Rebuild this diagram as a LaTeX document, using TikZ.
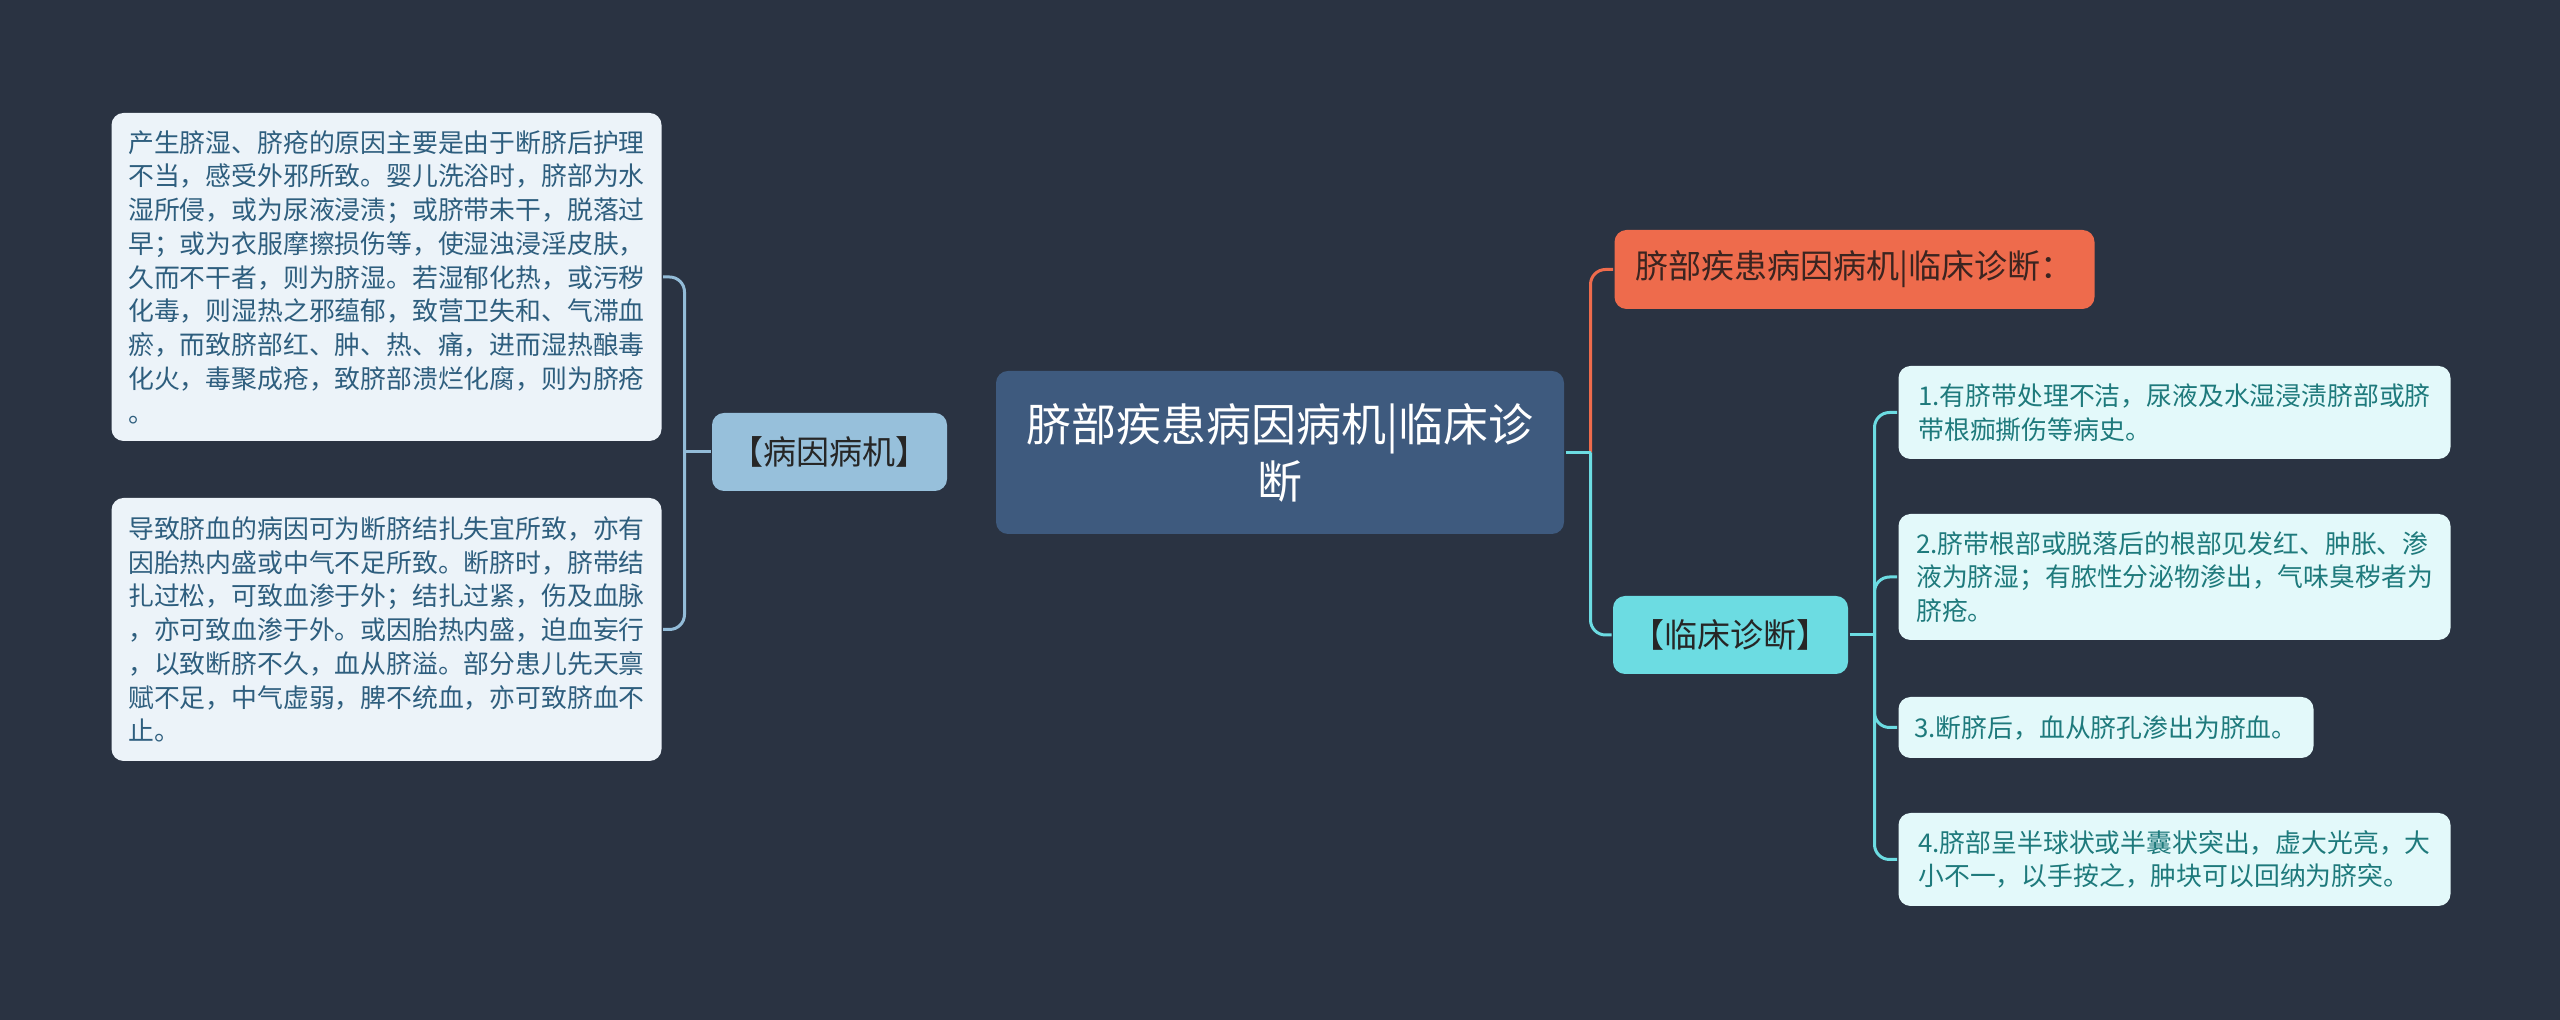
\documentclass[tikz,border=0pt]{standalone}
\usepackage{fontspec}
\setmainfont{Noto Sans CJK SC}
\definecolor{bgcol}{HTML}{2A3342}
\definecolor{rootfill}{HTML}{3E5A7E}
\definecolor{causefill}{HTML}{97C0DB}
\definecolor{lfill}{HTML}{ECF3F9}
\definecolor{ltext}{HTML}{2E5E7E}
\definecolor{orfill}{HTML}{EE6B4C}
\definecolor{ortext}{HTML}{3B2420}
\definecolor{cyfill}{HTML}{6CDCE2}
\definecolor{rfill}{HTML}{E3F9FA}
\definecolor{rtext}{HTML}{1E7A7C}
\definecolor{lline}{HTML}{93BCD8}

\begin{document}
\begin{tikzpicture}[x=1cm,y=-1cm,line width=.3mm,
  box/.style={rounded corners=1.2mm,inner xsep=1.4mm,inner ysep=1mm,align=left},
  small/.style={font=\fontsize{7.35pt}{9.6pt}\selectfont},
  leftbox/.style={box,small,fill=lfill,text=ltext,minimum width=5.5cm,anchor=east},
  rightbox/.style={box,small,fill=rfill,text=rtext,minimum width=5.52cm,anchor=west},
  midbox/.style={box,font=\fontsize{9.4pt}{12pt}\selectfont,text=black!85,minimum width=2.35cm,minimum height=.78cm,align=center},
  branch/.style={rounded corners=1.5mm}]
\fill[bgcol] (0,0) rectangle (25.6,10.2);
\useasboundingbox (0,0) rectangle (25.6,10.2);
% centre
\node[box,fill=rootfill,text=white,align=center,minimum width=5.68cm,minimum height=1.63cm,
  font=\fontsize{12.8pt}{16.2pt}\selectfont] (root) at (12.80,4.525) {脐部疾患病因病机|临床诊\\断};
% left side
\node[midbox,fill=causefill] (cause) at (8.295,4.52) {【病因病机】};
\node[leftbox,minimum height=3.28cm] (L1) at (6.63,2.77) {产生脐湿、脐疮的原因主要是由于断脐后护理\\不当，感受外邪所致。婴儿洗浴时，脐部为水\\湿所侵，或为尿液浸渍；或脐带未干，脱落过\\早；或为衣服摩擦损伤等，使湿浊浸淫皮肤，\\久而不干者，则为脐湿。若湿郁化热，或污秽\\化毒，则湿热之邪蕴郁，致营卫失和、气滞血\\瘀，而致脐部红、肿、热、痛，进而湿热酿毒\\化火，毒聚成疮，致脐部溃烂化腐，则为脐疮\\。};
\node[leftbox,minimum height=2.63cm] (L2) at (6.63,6.295) {导致脐血的病因可为断脐结扎失宜所致，亦有\\因胎热内盛或中气不足所致。断脐时，脐带结\\扎过松，可致血渗于外；结扎过紧，伤及血脉\\，亦可致血渗于外。或因胎热内盛，迫血妄行\\，以致断脐不久，血从脐溢。部分患儿先天禀\\赋不足，中气虚弱，脾不统血，亦可致脐血不\\止。};
% right side
\node[box,fill=orfill,text=ortext,font=\fontsize{9.4pt}{12pt}\selectfont,minimum width=4.8cm,minimum height=.79cm,anchor=west] (title) at (16.13,2.695) {脐部疾患病因病机|临床诊断：};
\node[midbox,fill=cyfill] (diag) at (17.305,6.35) {【临床诊断】};
\node[rightbox,minimum height=.93cm] (R1) at (18.97,4.125) {1.有脐带处理不洁，尿液及水湿浸渍脐部或脐\\带根痂撕伤等病史。};
\node[rightbox,minimum height=1.26cm] (R2) at (18.97,5.77) {2.脐带根部或脱落后的根部见发红、肿胀、渗\\液为脐湿；有脓性分泌物渗出，气味臭秽者为\\脐疮。};
\node[rightbox,minimum width=4.15cm,minimum height=.61cm] (R3) at (18.97,7.275) {3.断脐后，血从脐孔渗出为脐血。};
\node[rightbox,minimum height=.93cm] (R4) at (18.97,8.595) {4.脐部呈半球状或半囊状突出，虚大光亮，大\\小不一，以手按之，肿块可以回纳为脐突。};
% connectors
\coordinate (jl) at ([xshift=-2.6mm]cause.west);
\coordinate (jr) at ([xshift=2.5mm]root.east);
\coordinate (jd) at ([xshift=2.5mm]diag.east);
\draw[lline] (cause.west)--(jl);
\foreach \n in {L1,L2}{\draw[lline,branch] (jl) |- (\n.east);}
\draw[orfill,branch] (jr) |- (title.west);
\draw[cyfill] (root.east)--(jr);\draw[cyfill,branch] (jr) |- (diag.west);
\draw[cyfill] (diag.east)--(jd);
\foreach \n in {R1,R2,R3,R4}{\draw[cyfill,branch] (jd) |- (\n.west);}
\end{tikzpicture}
\end{document}
